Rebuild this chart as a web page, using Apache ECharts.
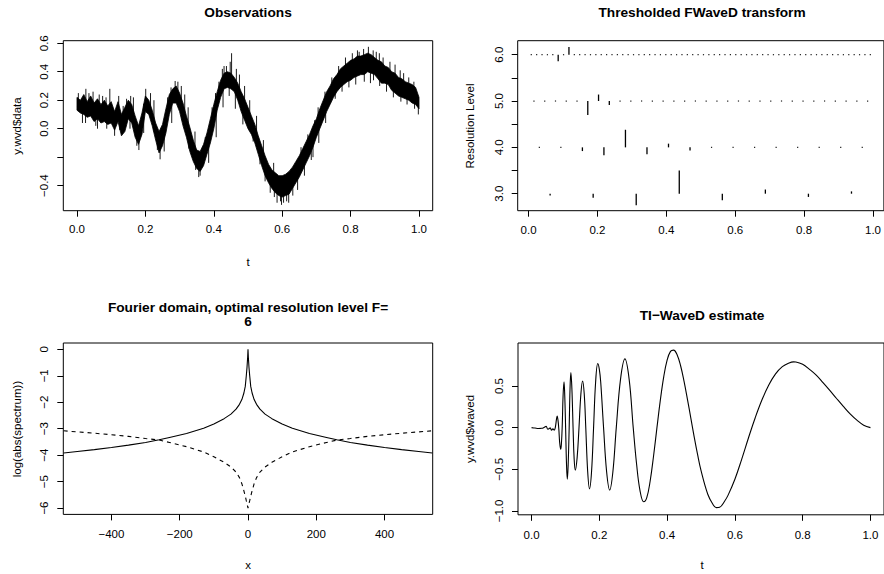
<!DOCTYPE html>
<html><head><meta charset="utf-8">
<script src="https://cdn.jsdelivr.net/npm/echarts@6/dist/echarts.min.js"></script>
<style>html,body{margin:0;padding:0;background:#fff}#c{width:884px;height:574px}</style>
</head><body><div id="c"></div>
<script>
// ---------- Panel 1: Observations (band envelope, t step 0.01) ----------
const obsT = Array.from({length: 101}, (_, i) => i / 100);
const obsHi = [
0.22,0.20,0.24,0.19,0.23,0.18,0.21,0.17,0.20,0.16,
0.19,0.12,0.19,0.10,0.15,0.20,0.17,0.09,0.02,0.11,
0.23,0.20,0.13,0.04,-0.02,0.03,0.14,0.24,0.28,0.30,
0.25,0.18,0.09,0.01,-0.08,-0.15,-0.16,-0.11,-0.03,0.07,
0.17,0.26,0.34,0.39,0.40,0.39,0.36,0.32,0.26,0.21,
0.15,0.09,0.03,-0.05,-0.12,-0.19,-0.25,-0.29,-0.31,-0.33,
-0.33,-0.32,-0.30,-0.27,-0.23,-0.19,-0.14,-0.09,-0.04,0.02,
0.07,0.14,0.20,0.26,0.30,0.35,0.38,0.42,0.44,0.46,
0.48,0.49,0.51,0.51,0.52,0.53,0.52,0.50,0.48,0.47,
0.44,0.43,0.40,0.39,0.36,0.35,0.33,0.32,0.31,0.29,0.22];
const obsLo = [
0.13,0.11,0.10,0.08,0.09,0.05,0.07,0.04,0.05,0.03,
0.04,-0.01,0.05,-0.05,-0.02,0.07,0.04,-0.06,-0.11,-0.04,
0.12,0.10,0.02,-0.08,-0.17,-0.12,-0.03,0.10,0.18,0.18,
0.12,0.02,-0.06,-0.16,-0.23,-0.28,-0.30,-0.26,-0.18,-0.10,
0.00,0.13,0.22,0.28,0.29,0.28,0.26,0.20,0.12,0.06,
0.00,-0.04,-0.10,-0.18,-0.26,-0.33,-0.38,-0.42,-0.45,-0.47,
-0.48,-0.47,-0.46,-0.42,-0.38,-0.34,-0.29,-0.24,-0.19,-0.13,
-0.06,0.00,0.06,0.12,0.17,0.22,0.26,0.29,0.31,0.33,
0.34,0.36,0.37,0.38,0.38,0.40,0.39,0.38,0.35,0.32,
0.32,0.31,0.27,0.25,0.23,0.22,0.21,0.20,0.18,0.17,0.14];
const spikeT = [
0.004,0.026,0.047,0.065,0.096,0.122,0.157,0.201,0.287,0.43,0.448,0.452,0.466,0.585,0.598,0.604,0.619,0.631,0.82,0.838,0.852,0.866,0.884,0.93,0.97,
0.181,0.243,0.356,0.36,0.55,0.565,0.69,0.84,0.858,0.885,0.998,0.016,0.06,0.11,
0.035,0.075,0.085,0.135,0.145,0.165,0.215,0.225,0.265,0.275,0.295,0.305,0.315,0.325,0.345,0.375,0.395,0.405,0.415,0.425,0.437,0.475,0.49,0.505,0.525,0.545,0.575,0.655,0.675,0.695,0.705,0.725,0.745,0.765,0.785,0.805,0.825,0.875,0.895,0.915,0.945,0.955,0.985,
0.025,0.055,0.087,0.125,0.155,0.175,0.195,0.235,0.255,0.277,0.307,0.327,0.347,0.385,0.407,0.427,0.445,0.463,0.485,0.515,0.535,0.577,0.595,0.613,0.645,0.665,0.685,0.707,0.727,0.755,0.775,0.795,0.815,0.867,0.905,0.925,0.947,0.965,0.987];
const spikeV = [
0.25,0.28,0.26,0.24,0.28,0.23,0.23,0.28,0.335,0.44,0.47,0.53,0.42,-0.52,-0.535,-0.52,-0.52,-0.47,0.55,0.56,0.575,0.55,0.53,0.45,0.36,
-0.15,-0.215,-0.34,-0.33,-0.37,-0.45,-0.2,0.33,0.32,0.30,0.10,0.04,0.0,-0.05,
0.25,0.23,0.22,0.16,0.21,0.22,0.25,0.2,0.22,0.29,0.33,0.3,0.24,0.15,-0.02,-0.06,0.15,0.25,0.33,0.42,0.44,0.38,0.30,0.2,0.09,-0.08,-0.24,-0.13,-0.04,0.06,0.15,0.26,0.36,0.44,0.50,0.53,0.54,0.54,0.50,0.47,0.41,0.39,0.33,
0.04,0.02,0.0,-0.01,0.0,-0.12,-0.03,-0.15,-0.16,0.04,0.06,-0.14,-0.29,-0.24,-0.06,0.15,0.23,0.14,0.03,-0.09,-0.25,-0.48,-0.51,-0.51,-0.43,-0.33,-0.22,-0.1,0.04,0.21,0.26,0.29,0.31,0.34,0.26,0.22,0.19,0.17,0.14];

// ---------- Panel 2: thresholded coefficients per resolution level ----------
const lev3 = [-0.04,-0.09,-0.25,0.50,-0.14,0.09,-0.07,0.05];
const lev4 = [0,0,-0.08,-0.17,0.38,-0.15,0.08,-0.07,0,0,0,0,0,0,0,0];
const lev5 = [0,0,0,0,0,-0.30,0.14,-0.086,0,0,0,0,0,0,0,0,0,0,0,0,0,0,0,0,0,0,0,0,0,0,0,0];
const lev6 = [0,0,0,0,0,-0.144,0,0.166,0,0,0,0,0,0,0,0,0,0,0,0,0,0,0,0,0,0,0,0,0,0,0,0,
              0,0,0,0,0,0,0,0,0,0,0,0,0,0,0,0,0,0,0,0,0,0,0,0,0,0,0,0,0,0,0,0];
const levels = [3,4,5,6];

// ---------- Panel 3: Fourier domain ----------
const specX = [-540,-500,-450,-400,-350,-300,-260,-230,-180,-130,-100,-70,-50,-35,-25,-18,-12,-8,-5,-3,-2,-1,0,1,2,3,5,8,12,18,25,35,50,70,100,130,180,230,260,300,350,400,450,500,540];
const specSolid = [-3.92,-3.86,-3.79,-3.71,-3.62,-3.52,-3.42,-3.33,-3.18,-2.98,-2.82,-2.62,-2.45,-2.26,-2.08,-1.9,-1.65,-1.4,-1.0,-0.7,-0.5,-0.3,0,-0.3,-0.5,-0.7,-1.0,-1.4,-1.65,-1.9,-2.08,-2.26,-2.45,-2.62,-2.82,-2.98,-3.18,-3.33,-3.42,-3.52,-3.62,-3.71,-3.79,-3.86,-3.92];
const specDashed = [-3.08,-3.12,-3.17,-3.23,-3.29,-3.37,-3.43,-3.52,-3.68,-3.88,-4.06,-4.27,-4.45,-4.64,-4.85,-5.08,-5.35,-5.55,-5.72,-5.82,-5.88,-5.95,-6.0,-5.95,-5.88,-5.82,-5.72,-5.55,-5.35,-5.08,-4.85,-4.64,-4.45,-4.27,-4.06,-3.88,-3.68,-3.52,-3.43,-3.37,-3.29,-3.23,-3.17,-3.12,-3.08];

// ---------- Panel 4: TI-WaveD estimate ----------
const estT = [0,0.01,0.02,0.03,0.038,0.043,0.048,0.052,0.055,0.059,0.063,0.067,0.07,0.0735,0.0755,0.078,0.0805,0.083,0.086,0.088,0.0905,0.093,0.0958,0.098,0.1005,0.103,0.1055,0.108,0.111,0.1135,0.116,0.119,0.1225,0.1255,0.129,0.1345,0.14,0.1455,0.1506,0.1555,0.16,0.1655,0.171,0.177,0.183,0.189,0.1954,0.2,0.204,0.2125,0.2215,0.2306,0.24,0.25,0.2625,0.2755,0.288,0.3,0.31,0.32,0.331,0.34,0.35,0.36,0.37,0.38,0.39,0.4,0.41,0.419,0.43,0.44,0.45,0.46,0.47,0.48,0.49,0.5,0.52,0.535,0.545,0.555,0.57,0.58,0.6,0.62,0.64,0.66,0.68,0.7,0.72,0.74,0.76,0.773,0.78,0.8,0.82,0.84,0.86,0.88,0.9,0.92,0.94,0.96,0.98,1];
const estY = [0,-0.005,-0.01,-0.008,0.005,0.015,-0.02,-0.01,-0.003,-0.03,-0.015,-0.03,0,0.1,0.14,0.09,-0.02,-0.18,-0.26,-0.2,0.02,0.38,0.55,0.38,0,-0.42,-0.62,-0.45,0,0.46,0.66,0.47,0,-0.36,-0.51,-0.36,0,0.4,0.56,0.4,0,-0.52,-0.735,-0.53,0,0.545,0.77,0.7,0.55,0,-0.53,-0.75,-0.53,0,0.58,0.825,0.58,0,-0.44,-0.755,-0.89,-0.84,-0.64,-0.34,0,0.33,0.61,0.81,0.915,0.93,0.87,0.74,0.555,0.34,0.115,-0.113,-0.325,-0.514,-0.8,-0.92,-0.96,-0.955,-0.88,-0.81,-0.62,-0.38,-0.124,0.119,0.334,0.512,0.645,0.732,0.777,0.79,0.788,0.76,0.70,0.63,0.54,0.447,0.35,0.255,0.165,0.09,0.03,0];

// ---------- Tick values and labels ----------
const unitXTicks = [0,0.2,0.4,0.6,0.8,1];
const unitXLabels = ['0.0','0.2','0.4','0.6','0.8','1.0'];
const obsYTicks = [-0.4,-0.2,0,0.2,0.4,0.6];
const obsYLabels = ['\u22120.4','','0.0','0.2','0.4','0.6'];
const levYTicks = [3,3.5,4,4.5,5,5.5,6];
const levYLabels = ['3.0','','4.0','','5.0','','6.0'];
const specXTicks = [-400,-200,0,200,400];
const specXLabels = ['\u2212400','\u2212200','0','200','400'];
const specYTicks = [-6,-5,-4,-3,-2,-1,0];
const specYLabels = ['\u22126','\u22125','\u22124','\u22123','\u22122','\u22121','0'];
const estYTicks = [-1,-0.5,0,0.5];
const estYLabels = ['\u22121.0','\u22120.5','0.0','0.5'];

const FONT = '"Liberation Sans", Arial, Helvetica, sans-serif';
function lookup(ticks, labels){
  return function(v){ for (let i=0;i<ticks.length;i++) if (Math.abs(ticks[i]-v)<1e-9) return labels[i]; return ''; };
}
function xAx(gi, min, max, ticks, labels, margin){
  return {type:'value', gridIndex:gi, min, max, axisLine:{show:false, onZero:false}, splitLine:{show:false},
    axisTick:{show:true, length:6, customValues:ticks, lineStyle:{color:'#000', width:1}},
    axisLabel:{show:true, customValues:ticks, formatter:lookup(ticks,labels), margin:margin, color:'#000', fontSize:11.5, fontFamily:FONT}};
}
function yAx(gi, min, max, ticks, labels){
  return {type:'value', gridIndex:gi, min, max, axisLine:{show:false, onZero:false}, splitLine:{show:false},
    axisTick:{show:true, length:6, customValues:ticks, lineStyle:{color:'#000', width:1}},
    axisLabel:{show:true, customValues:ticks, formatter:lookup(ticks,labels), rotate:90, margin:13, color:'#000', fontSize:11.5, fontFamily:FONT}};
}
const gridStyle = {show:true, borderColor:'#000', borderWidth:1, backgroundColor:'transparent', containLabel:false};

const coefData = [];
[lev3, lev4, lev5, lev6].forEach((arr, k) => {
  const n = arr.length;
  arr.forEach((c, i) => coefData.push([(i + 0.5) / n, levels[k], c]));
});

function txt(x, y, text, opt){
  opt = opt || {};
  return {type:'text', x, y, rotation: opt.rot || 0, silent:true,
    style:{text, fill:'#000', fontSize: opt.size || 11.5, fontWeight: opt.bold ? 'bold' : 'normal', fontFamily: FONT, align:'center', verticalAlign:'middle'}};
}

const chart = echarts.init(document.getElementById('c'), null, {renderer:'svg'});
chart.setOption({
  animation:false,
  backgroundColor:'#fff',
  grid:[
    Object.assign({left:63.3, top:40.7, width:369.4, height:170}, gridStyle),
    Object.assign({left:517.7, top:40.7, width:368.6, height:170}, gridStyle),
    Object.assign({left:63.3, top:343, width:369.4, height:171.4}, gridStyle),
    Object.assign({left:518, top:343, width:368.6, height:171.8}, gridStyle)
  ],
  xAxis:[
    xAx(0, -0.04, 1.04, unitXTicks, unitXLabels, 12),
    xAx(1, -0.0316, 1.0316, unitXTicks, unitXLabels, 13),
    xAx(2, -541, 541, specXTicks, specXLabels, 14),
    xAx(3, -0.04, 1.04, unitXTicks, unitXLabels, 14)
  ],
  yAxis:[
    yAx(0, -0.576, 0.618, obsYTicks, obsYLabels),
    yAx(1, 2.633, 6.302, levYTicks, levYLabels),
    yAx(2, -6.24, 0.24, specYTicks, specYLabels),
    yAx(3, -1.046, 1.016, estYTicks, estYLabels)
  ],
  series:[
    {type:'custom', xAxisIndex:0, yAxisIndex:0, data:[[0.5,0]], silent:true,
      renderItem:function(params, api){
        const pts = [];
        for (let i=0;i<obsT.length;i++) pts.push(api.coord([obsT[i], obsHi[i]]));
        for (let i=obsT.length-1;i>=0;i--) pts.push(api.coord([obsT[i], obsLo[i]]));
        const ch = [{type:'polygon', shape:{points:pts}, style:{fill:'#000', stroke:'#000', lineWidth:0.8}}];
        for (let k=0;k<spikeT.length;k++){
          const idx = Math.round(spikeT[k]*100);
          const base = (obsHi[idx] + obsLo[idx]) / 2;
          const a = api.coord([spikeT[k], base]), b = api.coord([spikeT[k], spikeV[k]]);
          ch.push({type:'line', shape:{x1:a[0], y1:a[1], x2:b[0], y2:b[1]}, style:{stroke:'#000', lineWidth:0.9}});
        }
        return {type:'group', children:ch};
      }},
    {type:'custom', xAxisIndex:1, yAxisIndex:1, data:coefData, silent:true,
      renderItem:function(params, api){
        const x = api.value(0), lv = api.value(1), c = api.value(2);
        const p0 = api.coord([x, lv]);
        if (c === 0) return {type:'rect', shape:{x:p0[0]-0.6, y:p0[1]-0.6, width:1.2, height:1.2}, style:{fill:'#222'}};
        const p1 = api.coord([x, lv + c]);
        return {type:'line', shape:{x1:p0[0], y1:p0[1], x2:p1[0], y2:p1[1]}, style:{stroke:'#000', lineWidth:1.3}};
      }},
    {type:'line', xAxisIndex:2, yAxisIndex:2, data:specX.map((x,i)=>[x, specSolid[i]]), showSymbol:false, symbol:'none', silent:true,
      lineStyle:{color:'#000', width:1.1}},
    {type:'line', xAxisIndex:2, yAxisIndex:2, data:specX.map((x,i)=>[x, specDashed[i]]), showSymbol:false, symbol:'none', silent:true,
      lineStyle:{color:'#000', width:1.1, type:[4,4]}},
    {type:'line', xAxisIndex:3, yAxisIndex:3, data:estT.map((t,i)=>[t, estY[i]]), showSymbol:false, symbol:'none', silent:true, smooth:0.4,
      lineStyle:{color:'#000', width:1.1}}
  ],
  graphic:{elements:[
    txt(248, 12.5, 'Observations', {bold:true, size:13.7}),
    txt(702, 12.5, 'Thresholded FWaveD transform', {bold:true, size:13.7}),
    txt(248, 307.5, 'Fourier domain, optimal resolution level F=', {bold:true, size:13.7}),
    txt(248, 321, '6', {bold:true, size:13.7}),
    txt(702, 315, 'TI\u2212WaveD estimate', {bold:true, size:13.7}),
    txt(248, 262, 't'),
    txt(16.7, 126, 'y.wvd$data', {rot:Math.PI/2}),
    txt(470.3, 126, 'Resolution Level', {rot:Math.PI/2}),
    txt(248, 565, 'x'),
    txt(16.7, 429, 'log(abs(spectrum))', {rot:Math.PI/2}),
    txt(702, 565, 't'),
    txt(470.3, 429, 'y.wvd$waved', {rot:Math.PI/2})
  ]}
});
</script></body></html>
